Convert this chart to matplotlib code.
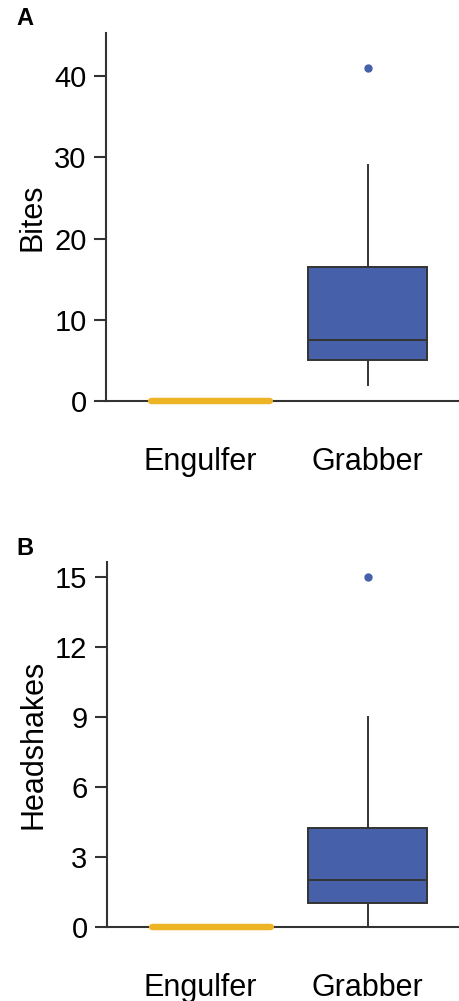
import matplotlib
matplotlib.use("Agg")
import matplotlib.pyplot as plt
from matplotlib.transforms import ScaledTranslation

plt.rcParams['font.family'] = ['Liberation Sans', 'DejaVu Sans']

categories = ["Engulfer", "Grabber"]

# Panel A: Bites (box statistics per category)
bites_whislo = [0, 2]
bites_q1 = [0, 5]
bites_med = [0, 7.5]
bites_q3 = [0, 16.5]
bites_whishi = [0, 29]
bites_fliers = [[], [41]]
bites_ticks = [0, 10, 20, 30, 40]

# Panel B: Headshakes
hs_whislo = [0, 0]
hs_q1 = [0, 1]
hs_med = [0, 2]
hs_q3 = [0, 4.25]
hs_whishi = [0, 9]
hs_fliers = [[], [15]]
hs_ticks = [0, 3, 6, 9, 12, 15]

colors = ["#EDB426", "#4661AA"]
edge = "#333333"

fig = plt.figure(figsize=(4.6, 10.01), dpi=100)
axA = fig.add_axes([0.2304, 0.5994, 0.7696, 0.3676])
axB = fig.add_axes([0.2326, 0.0742, 0.7674, 0.3647])


def draw(ax, whislo, q1, med, q3, whishi, fliers, ticks, ylabel, ytop):
    for i, cat in enumerate(categories):
        st = dict(whislo=whislo[i], q1=q1[i], med=med[i], q3=q3[i],
                  whishi=whishi[i], fliers=fliers[i], label=cat)
        degenerate = q1[i] == q3[i] and whislo[i] == whishi[i]
        if degenerate:
            ec = colors[i]
            lw = 4.5
        else:
            ec = edge
            lw = 1.4
        bp = ax.bxp([st], positions=[i], widths=0.76, patch_artist=True,
                    showcaps=False, manage_ticks=False,
                    boxprops=dict(facecolor=colors[i], edgecolor=ec, linewidth=lw),
                    medianprops=dict(color=ec, linewidth=lw, solid_capstyle='round' if degenerate else 'butt'),
                    whiskerprops=dict(color=ec, linewidth=lw),
                    flierprops=dict(marker='o', markerfacecolor=colors[i],
                                    markeredgecolor=colors[i], markersize=5))
        for art in bp['boxes'] + bp['medians'] + bp['whiskers'] + bp['fliers']:
            art.set_clip_on(False)
            if degenerate:
                art.set_zorder(5)
    ax.set_xlim(-0.67, 1.59)
    ax.set_ylim(0, ytop)
    ax.set_xticks(range(len(categories)))
    ax.set_xticklabels(categories, fontsize=22)
    ax.set_yticks(ticks)
    ax.tick_params(axis='x', length=0, pad=33)
    ax.tick_params(axis='y', length=9, width=1.5, color=edge, labelsize=21, pad=5)
    # first category label sits slightly left of its box in the reference
    tick0 = ax.xaxis.get_major_ticks()[0]
    tick0.label1.set_transform(tick0.label1.get_transform()
                               + ScaledTranslation(-0.11, 0, fig.dpi_scale_trans))
    for s in ['top', 'right']:
        ax.spines[s].set_visible(False)
    for s in ['left', 'bottom']:
        ax.spines[s].set_linewidth(1.5)
        ax.spines[s].set_color(edge)
    ax.set_ylabel(ylabel, fontsize=22, labelpad=5)


draw(axA, bites_whislo, bites_q1, bites_med, bites_q3, bites_whishi,
     bites_fliers, bites_ticks, "Bites", 45.3)
draw(axB, hs_whislo, hs_q1, hs_med, hs_q3, hs_whishi,
     hs_fliers, hs_ticks, "Headshakes", 15.64)

fig.text(0.035, 0.982, "A", fontsize=17, fontweight='bold', va='center')
fig.text(0.035, 0.452, "B", fontsize=17, fontweight='bold', va='center')

fig.savefig("out.png", dpi=100)
